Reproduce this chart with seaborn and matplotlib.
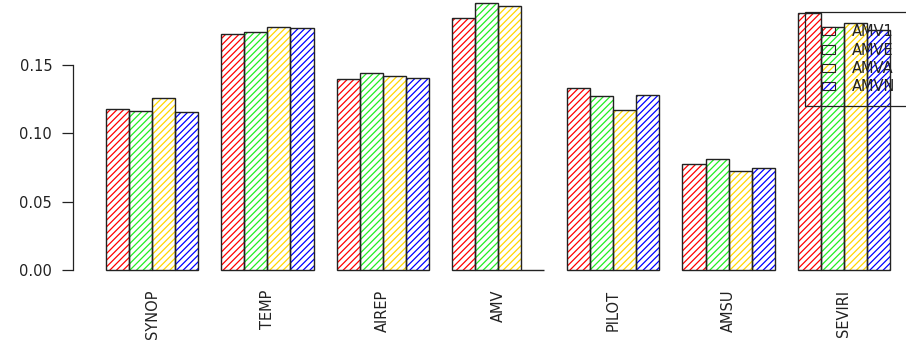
import matplotlib
matplotlib.use("Agg")
import matplotlib.pyplot as plt
import seaborn as sns
import pandas as pd
from matplotlib.patches import Rectangle

# Observation types and the four AMV experiments
categories = ["SYNOP", "TEMP", "AIREP", "AMV", "PILOT", "AMSU", "SEVIRI"]
series = ["AMV1", "AMVE", "AMVA", "AMVN"]
amv1 = [0.1178, 0.1728, 0.1398, 0.1845, 0.1332, 0.0776, 0.1881]
amve = [0.1164, 0.1742, 0.1439, 0.1954, 0.1276, 0.0812, 0.1778]
amva = [0.1259, 0.1779, 0.1422, 0.1932, 0.1171, 0.0724, 0.1805]
amvn = [0.1157, 0.1771, 0.1407, 0.0000, 0.1283, 0.0746, 0.1760]
colors = ["#FF0000", "#22EE22", "#FFD700", "#0000FF"]
yticks = [0.00, 0.05, 0.10, 0.15]
ytick_labels = ["0.00", "0.05", "0.10", "0.15"]

values = {"AMV1": amv1, "AMVE": amve, "AMVA": amva, "AMVN": amvn}
df = pd.DataFrame(
    [(c, s, values[s][i]) for s in series for i, c in enumerate(categories)],
    columns=["obs", "exp", "value"],
)

sns.set_theme(style="white")
plt.rcParams["font.family"] = ["DejaVu Sans"]
plt.rcParams["hatch.linewidth"] = 0.9

HATCH = "/////"

W, H = 906, 346
fig = plt.figure(figsize=(W / 100, H / 100), dpi=100)
ax = fig.add_axes([73 / W, 76 / H, 1 - 73 / W, 1 - 76 / H])

sns.barplot(data=df, x="obs", y="value", hue="exp", order=categories,
            hue_order=series, palette=colors, width=0.8, gap=0,
            errorbar=None, legend=False, ax=ax)

# Hatched bars: hatch in series colour, outline drawn on top in black
for container, col in zip(ax.containers, colors):
    for p in container.patches:
        p.set_facecolor("white")
        p.set_edgecolor(col)
        p.set_hatch(HATCH)
        p.set_linewidth(0)
        ax.add_patch(Rectangle(p.get_xy(), p.get_width(), p.get_height(),
                               fill=False, edgecolor="#222222", lw=1.0,
                               clip_on=False, zorder=3))

ax.set_xlim(-0.686, 6.539)
ax.set_ylim(0, 0.1976)
ax.set_xlabel("")
ax.set_ylabel("")
for side in ["top", "right", "bottom"]:
    ax.spines[side].set_visible(False)
ax.spines["left"].set_bounds(0, 0.15)
ax.spines["left"].set_color("#222222")
ax.spines["left"].set_linewidth(0.9)
ax.set_yticks(yticks)
ax.set_yticklabels(ytick_labels)
ax.tick_params(axis="y", left=True, length=8, width=0.9, color="#222222",
               pad=7, labelsize=10.5, labelcolor="#222222")
ax.tick_params(axis="x", bottom=False, length=0, pad=14, labelsize=10.5,
               labelcolor="#222222")
for lab in ax.get_xticklabels():
    lab.set_rotation(90)
    lab.set_va("top")
    lab.set_ha("center")


class HatchBoxHandler:
    """Legend key: colour-hatched box with a black outline."""
    def __init__(self, color):
        self.color = color

    def legend_artist(self, legend, orig_handle, fontsize, handlebox):
        w, h = 9.4, 5.8
        x0 = handlebox.width - w - handlebox.xdescent
        y0 = (handlebox.height - h) / 2 - handlebox.ydescent
        hatch = Rectangle((x0, y0), w, h, facecolor="white",
                          edgecolor=self.color, hatch=HATCH, lw=0,
                          transform=handlebox.get_transform())
        frame = Rectangle((x0, y0), w, h, fill=False, edgecolor="#222222",
                          lw=0.8, transform=handlebox.get_transform())
        handlebox.add_artist(hatch)
        handlebox.add_artist(frame)
        return frame


# Legend box runs on past the right edge of the figure
leg_box = (805 / W, 1 - 12 / H - 0.3, 140 / W, 0.3)
handles = [Rectangle((0, 0), 1, 1) for _ in series]
leg = ax.legend(handles, series, loc="upper left", mode="expand",
                bbox_to_anchor=leg_box,
                bbox_transform=fig.transFigure, borderaxespad=0,
                frameon=True, fancybox=False, framealpha=1,
                facecolor="none", edgecolor="#222222", fontsize=10.5,
                borderpad=0.85, handlelength=1.2, handleheight=0.7,
                handletextpad=1.15, labelspacing=0.22,
                handler_map={h: HatchBoxHandler(c)
                             for h, c in zip(handles, colors)})
leg.get_frame().set_linewidth(0.9)
leg.set_zorder(5)
for t in leg.get_texts():
    t.set_color("#222222")

fig.savefig("out.png", dpi=100)
